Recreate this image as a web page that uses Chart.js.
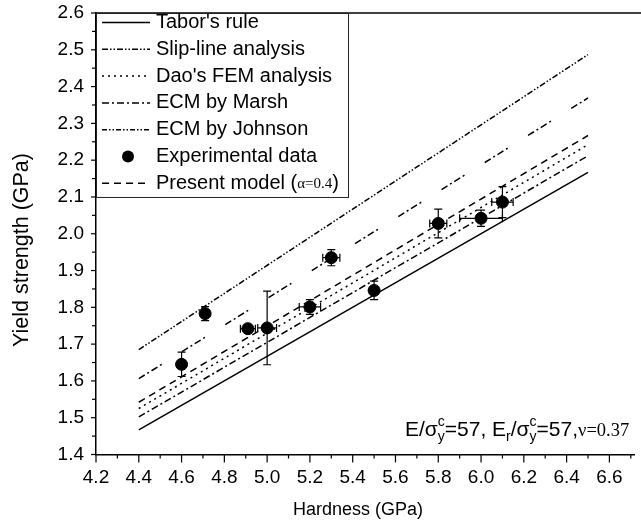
<!DOCTYPE html>
<html><head><meta charset="utf-8">
<script src="https://cdn.jsdelivr.net/npm/chart.js@4.4.1/dist/chart.umd.min.js"></script>
<style>html,body{margin:0;padding:0;background:#fff}#wrap{width:641px;height:531px;position:relative}</style>
</head><body><div id="wrap"><canvas id="c"></canvas></div>
<script>
// ---- data ----
const lineX = [4.4, 6.5];
const taborY = [1.467, 2.167];
const slipLineY = [1.685, 2.487];
const daoY = [1.525, 2.242];
const marshY = [1.502, 2.212];
const johnsonY = [1.606, 2.369];
const presentY = [1.542, 2.267];
const expH = [4.60, 4.71, 4.91, 5.00, 5.20, 5.30, 5.50, 5.80, 6.00, 6.10];
const expY = [1.645, 1.783, 1.742, 1.744, 1.801, 1.935, 1.846, 2.028, 2.042, 2.086];
const expYErr = [0.033, 0.019, 0.0, 0.100, 0.020, 0.022, 0.025, 0.039, 0.022, 0.042];
const expHErr = [0.0, 0.0, 0.035, 0.044, 0.050, 0.040, 0.0, 0.040, 0.100, 0.050];
const xTickValues = [4.2, 4.4, 4.6, 4.8, 5.0, 5.2, 5.4, 5.6, 5.8, 6.0, 6.2, 6.4, 6.6];
const xTickLabels = ['4.2','4.4','4.6','4.8','5.0','5.2','5.4','5.6','5.8','6.0','6.2','6.4','6.6'];
const yTickValues = [1.4, 1.5, 1.6, 1.7, 1.8, 1.9, 2.0, 2.1, 2.2, 2.3, 2.4, 2.5, 2.6];
const yTickLabels = ['1.4','1.5','1.6','1.7','1.8','1.9','2.0','2.1','2.2','2.3','2.4','2.5','2.6'];
const legendLabels = ["Tabor's rule", 'Slip-line analysis', "Dao's FEM analysis", 'ECM by Marsh', 'ECM by Johnson', 'Experimental data', 'Present model'];
const xTitle = 'Hardness (GPa)';
const yTitle = 'Yield strength (GPa)';

const SANS = '"Liberation Sans", Arial, sans-serif';
const SERIF = '"Liberation Serif", "Times New Roman", serif';

function lineDs(label, ys, dash, legendDash) {
  return { label, type: 'scatter', showLine: true,
    data: lineX.map((x, i) => ({ x, y: ys[i] })),
    borderColor: '#000', backgroundColor: '#000', borderWidth: 1.5, borderDash: dash,
    legendDash: legendDash || dash,
    pointRadius: 0, pointHoverRadius: 0, fill: false, tension: 0 };
}

const datasets = [
  lineDs(legendLabels[0], taborY, []),
  lineDs(legendLabels[1], slipLineY, [6, 2, 1.5, 2, 1.5, 2]),
  lineDs(legendLabels[2], daoY, [2, 4]),
  lineDs(legendLabels[3], marshY, [7, 3, 2, 3]),
  lineDs(legendLabels[4], johnsonY, [7, 3, 2, 3, 7, 3, 2, 24], [5, 2, 1.5, 2, 1.5, 2]),
  { label: legendLabels[5], type: 'scatter', showLine: false,
    data: expH.map((x, i) => ({ x, y: expY[i] })),
    pointRadius: 6, pointHoverRadius: 6, pointBackgroundColor: '#000', pointBorderColor: '#000', borderColor: '#000', backgroundColor: '#000' },
  lineDs(legendLabels[6], presentY, [7, 5])
];

const decorPlugin = {
  id: 'decor',
  afterDatasetsDraw(chart) {
    const ctx = chart.ctx, xs = chart.scales.x, ys = chart.scales.y;
    ctx.save();
    ctx.strokeStyle = '#000'; ctx.lineWidth = 1.2; ctx.setLineDash([]);
    const cap = 4;
    for (let i = 0; i < expH.length; i++) {
      const px = xs.getPixelForValue(expH[i]), py = ys.getPixelForValue(expY[i]);
      if (expYErr[i] > 0) {
        const t = ys.getPixelForValue(expY[i] + expYErr[i]), b = ys.getPixelForValue(expY[i] - expYErr[i]);
        ctx.beginPath(); ctx.moveTo(px, t); ctx.lineTo(px, b);
        ctx.moveTo(px - cap, t); ctx.lineTo(px + cap, t);
        ctx.moveTo(px - cap, b); ctx.lineTo(px + cap, b); ctx.stroke();
      }
      if (expHErr[i] > 0) {
        const l = xs.getPixelForValue(expH[i] - expHErr[i]), r = xs.getPixelForValue(expH[i] + expHErr[i]);
        ctx.beginPath(); ctx.moveTo(l, py); ctx.lineTo(r, py);
        ctx.moveTo(l, py - cap); ctx.lineTo(l, py + cap);
        ctx.moveTo(r, py - cap); ctx.lineTo(r, py + cap); ctx.stroke();
      }
    }
    ctx.restore();
  },
  afterDraw(chart) {
    const ctx = chart.ctx, xs = chart.scales.x, ys = chart.scales.y, ca = chart.chartArea;
    ctx.save();
    ctx.strokeStyle = '#000'; ctx.setLineDash([]);
    // top frame line
    ctx.lineWidth = 1.5;
    ctx.beginPath(); ctx.moveTo(ca.left, ca.top); ctx.lineTo(chart.width, ca.top); ctx.stroke();
    // x ticks (major + minor), outward
    ctx.lineWidth = 1.2;
    for (let k = 42; k <= 67; k++) {
      const px = xs.getPixelForValue(k / 10);
      const len = (k % 2 === 0) ? 8 : 4;
      ctx.beginPath(); ctx.moveTo(px, ca.bottom); ctx.lineTo(px, ca.bottom + len); ctx.stroke();
    }
    // y ticks, outward
    for (let k = 28; k <= 52; k++) {
      const py = ys.getPixelForValue(k / 20);
      const len = (k % 2 === 0) ? 5 : 4;
      ctx.beginPath(); ctx.moveTo(ca.left, py); ctx.lineTo(ca.left - len, py); ctx.stroke();
    }
    // axis titles
    ctx.fillStyle = '#000'; ctx.textAlign = 'center'; ctx.textBaseline = 'middle';
    ctx.font = '18px ' + SANS;
    ctx.fillText(xTitle, 358, 510);
    ctx.save();
    ctx.translate(22, 250); ctx.rotate(-Math.PI / 2);
    ctx.font = '21.5px ' + SANS;
    ctx.fillText(yTitle, 0, 0);
    ctx.restore();
    // legend box (inside plot, top-left)
    const lx = ca.left, ly = ca.top, lw = 252, lh = ys.getPixelForValue(2.1) - ca.top;
    ctx.fillStyle = '#fff';
    ctx.fillRect(lx, ly, lw, lh);
    ctx.lineWidth = 1; ctx.strokeStyle = '#222';
    ctx.strokeRect(lx + 0.5, ly + 0.5, lw, lh);
    ctx.textBaseline = 'middle'; ctx.textAlign = 'left'; ctx.fillStyle = '#000';
    chart.data.datasets.forEach((d, i) => {
      const y = ly + 9.5 + i * 26.8;
      if (d.showLine) {
        ctx.strokeStyle = '#000'; ctx.lineWidth = 1.5; ctx.setLineDash(d.legendDash || d.borderDash || []);
        ctx.beginPath(); ctx.moveTo(lx + 6, y); ctx.lineTo(lx + 54, y); ctx.stroke();
        ctx.setLineDash([]);
      } else {
        ctx.beginPath(); ctx.arc(lx + 32, y, 6, 0, Math.PI * 2); ctx.fill();
      }
      let tx = lx + 60;
      ctx.font = '20px ' + SANS;
      if (i === 6) {
        const t1 = d.label + ' (';
        ctx.fillText(t1, tx, y); tx += ctx.measureText(t1).width;
        ctx.font = '15px ' + SERIF;
        ctx.fillText('\u03B1=0.4', tx, y + 1); tx += ctx.measureText('\u03B1=0.4').width;
        ctx.font = '20px ' + SANS;
        ctx.fillText(')', tx, y);
      } else {
        ctx.fillText(d.label, tx, y);
      }
    });
    // annotation
    ctx.textBaseline = 'alphabetic';
    let ax = 405; const ab = 436;
    const big = '21px ' + SANS, small = '14px ' + SANS;
    function seg(t, f, dy) { ctx.font = f; ctx.fillText(t, ax, ab + (dy || 0)); ax += ctx.measureText(t).width; }
    function stack() { ctx.font = small; ctx.fillText('c', ax, ab - 10); ctx.fillText('y', ax, ab + 5); ax += ctx.measureText('y').width; }
    seg('E/\u03C3', big); stack(); seg('=57, E', big);
    seg('r', small, 5); seg('/\u03C3', big); stack(); seg('=57,', big);
    seg('\u03BD=0.37', '18.5px ' + SERIF);
    ctx.restore();
  }
};

new Chart(document.getElementById('c'), {
  type: 'scatter',
  data: { datasets },
  options: {
    responsive: true, maintainAspectRatio: false, animation: false, devicePixelRatio: 1,
    layout: { padding: { top: 13, right: 0, left: 0, bottom: 0 } },
    plugins: { legend: { display: false }, tooltip: { enabled: false } },
    scales: {
      x: {
        type: 'linear', min: 4.2, max: 6.715,
        afterBuildTicks: s => { s.ticks = xTickValues.map(v => ({ value: v })); },
        afterFit: s => { s.height = 76.5; s.paddingLeft = 0; s.paddingRight = 0; },
        ticks: { callback: (v, i) => xTickLabels[i], color: '#000', font: { family: SANS, size: 19 }, padding: 4, maxRotation: 0, autoSkip: false },
        grid: { display: true, drawOnChartArea: false, drawTicks: true, tickLength: 8, color: 'rgba(0,0,0,0)' },
        border: { display: true, color: '#000', width: 1.5 },
        title: { display: false }
      },
      y: {
        type: 'linear', min: 1.4, max: 2.6,
        afterBuildTicks: s => { s.ticks = yTickValues.map(v => ({ value: v })); },
        afterFit: s => { s.width = 96; s.paddingTop = 0; s.paddingBottom = 0; },
        ticks: { callback: (v, i) => yTickLabels[i], color: '#000', font: { family: SANS, size: 19 }, padding: 7, autoSkip: false },
        grid: { display: true, drawOnChartArea: false, drawTicks: true, tickLength: 5, color: 'rgba(0,0,0,0)' },
        border: { display: true, color: '#000', width: 1.5 },
        title: { display: false }
      }
    }
  },
  plugins: [decorPlugin]
});
</script></body></html>
